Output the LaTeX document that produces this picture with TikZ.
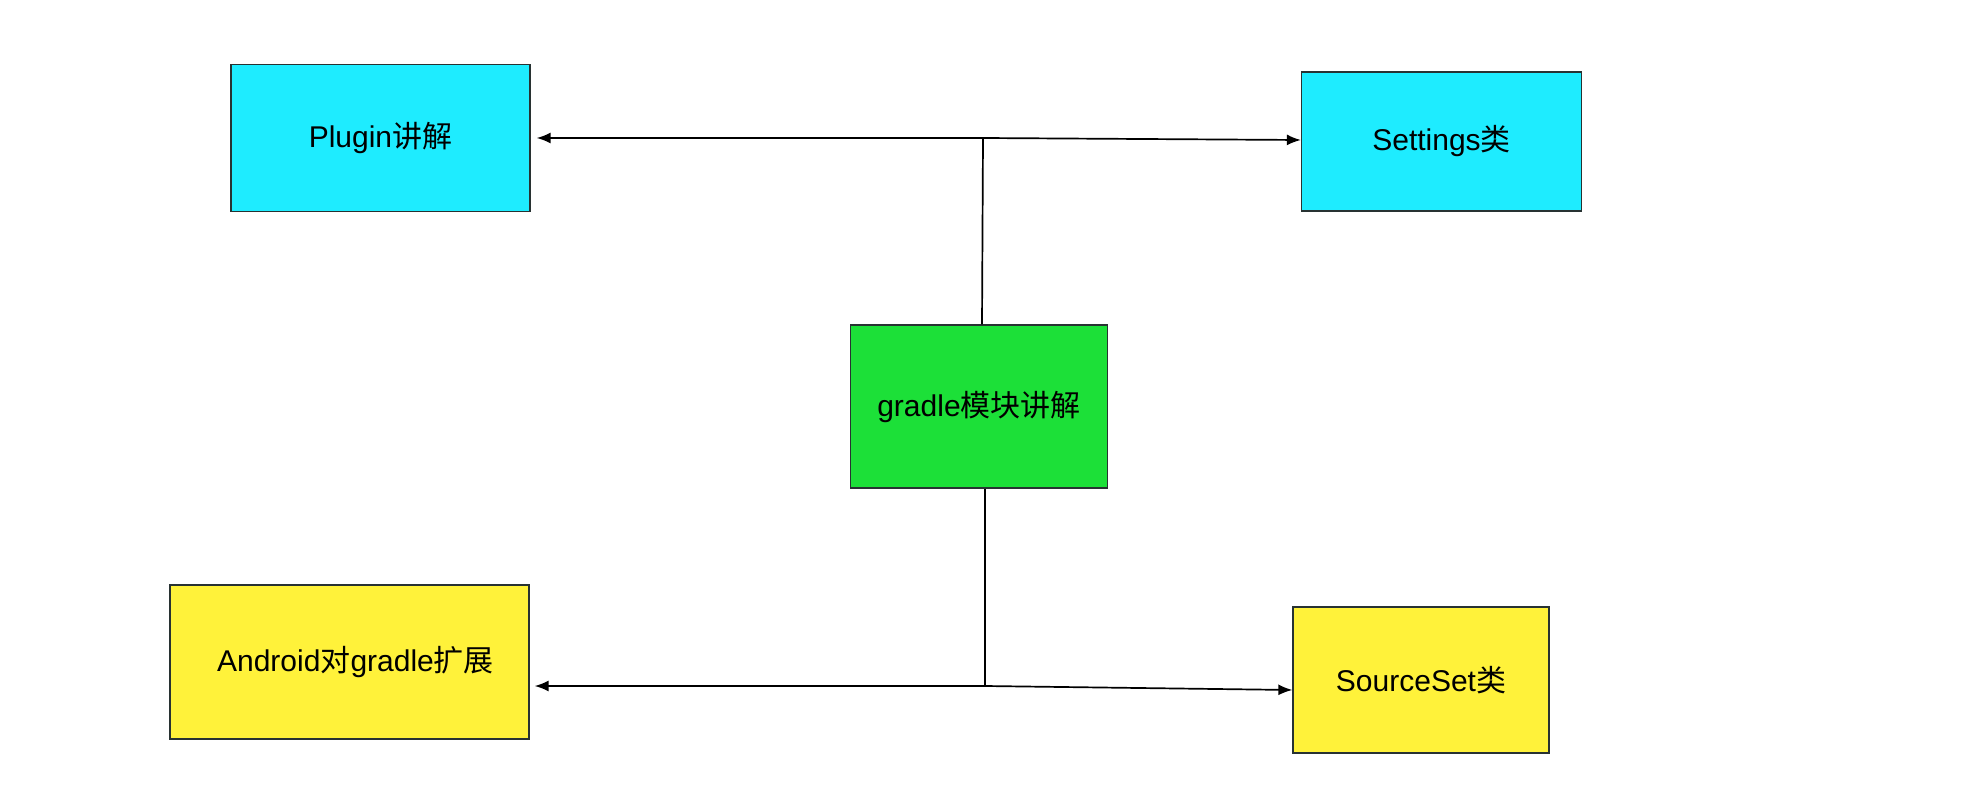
\documentclass[tikz,border=0pt]{standalone}
\usepackage{fontspec}
\setmainfont{Liberation Sans}
\newfontfamily\cjk{Noto Sans CJK SC}
\usetikzlibrary{arrows.meta}
\definecolor{boxcyan}{RGB}{30,236,255}
\definecolor{boxgreen}{RGB}{28,224,56}
\definecolor{boxyellow}{RGB}{255,242,58}
\definecolor{edge}{RGB}{40,50,50}
\tikzset{
  topic/.style={draw=edge, line width=1.3pt, inner sep=0pt, font=\fontsize{30}{35}\selectfont},
  conn/.style={line width=1.7pt, black},
  arr/.style={conn, -{Latex[length=14pt,width=11pt]}}
}
\begin{document}
\begin{tikzpicture}[x=1pt,y=-1pt]
\useasboundingbox (0,0) rectangle (1968,794);
\fill[white] (0,0) rectangle (1968,794);
\node[topic, fill=boxcyan, minimum width=299pt, minimum height=147pt] (plugin) at (380.5,138) {Plugin{\cjk 讲解}};
\node[topic, fill=boxcyan, minimum width=280pt, minimum height=139pt] (settings) at (1441.5,141.5) {Settings{\cjk 类}};
\node[topic, fill=boxgreen, minimum width=257pt, minimum height=163pt] (gradle) at (979,406.5) {gradle{\cjk 模块讲解}};
\node[topic, fill=boxyellow, minimum width=359pt, minimum height=154pt] (android) at (349.5,662) {\hspace*{12pt}Android{\cjk 对}gradle{\cjk 扩展}};
\node[topic, fill=boxyellow, minimum width=256pt, minimum height=146pt] (source) at (1421,680) {SourceSet{\cjk 类}};
\coordinate (jt) at (983,138);
\coordinate (jb) at (985,686);
\draw[conn] ([xshift=3pt]gradle.north) -- (jt);
\draw[arr, shorten >=6pt] (jt) -- (plugin.east);
\draw[arr] (jt) -- ([yshift=1.5pt]settings.west);
\draw[conn] ([xshift=6pt]gradle.south) -- (jb);
\draw[arr, shorten >=5pt] (jb) -- (android.east |- jb);
\draw[arr] (jb) -- ([yshift=-10pt]source.west);
\end{tikzpicture}
\end{document}
